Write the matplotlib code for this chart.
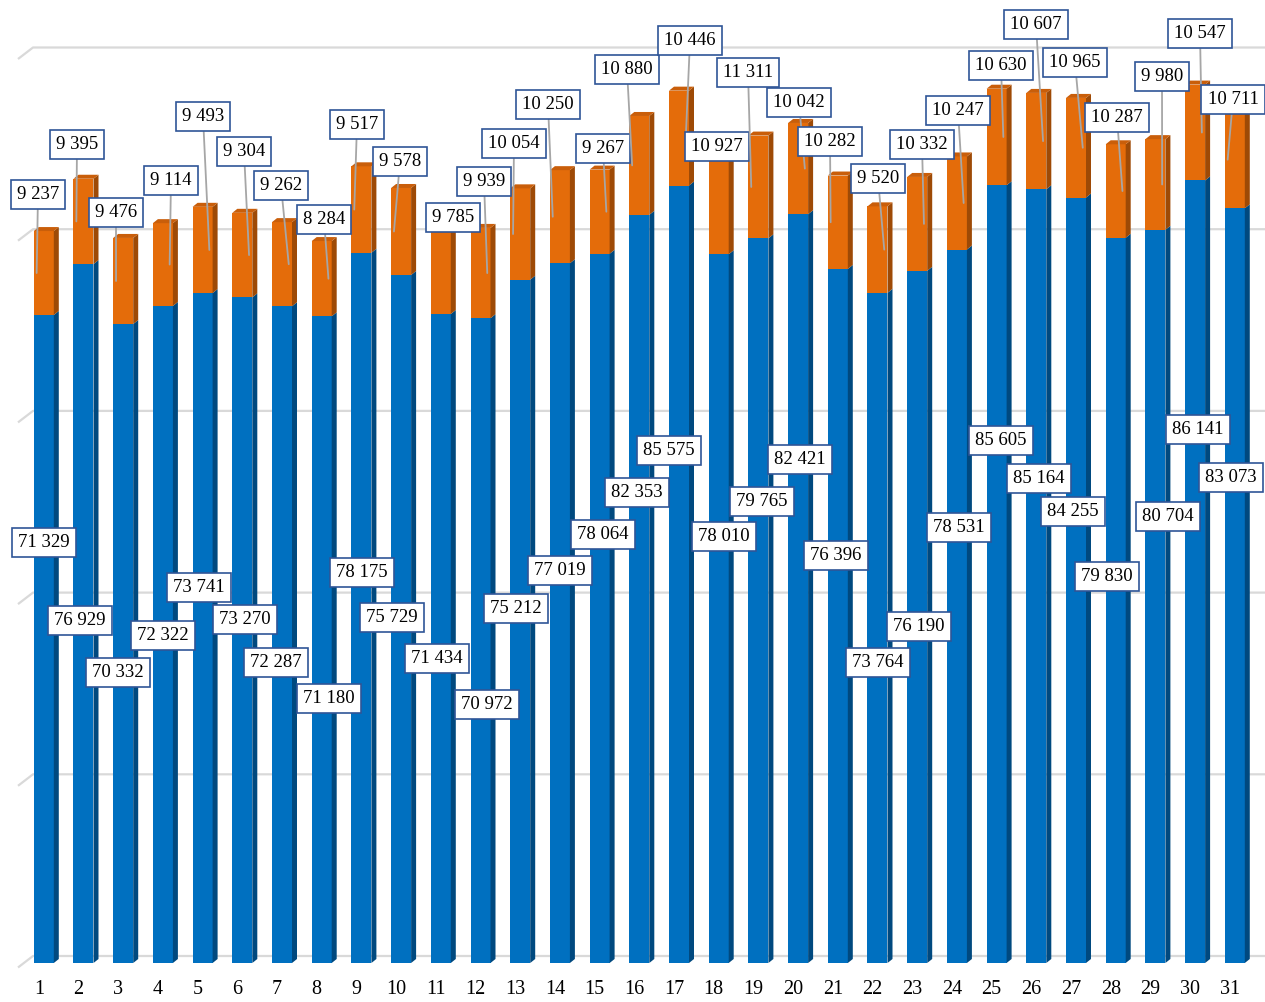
import matplotlib
matplotlib.use("Agg")
import matplotlib.pyplot as plt
from matplotlib.lines import Line2D
from matplotlib.transforms import IdentityTransform, ScaledTranslation

plt.rcParams['font.family'] = ['Liberation Serif', 'DejaVu Serif']

# ---------------- data ----------------
days = list(range(1, 32))
blue_vals = [71329, 76929, 70332, 72322, 73741, 73270, 72287, 71180, 78175, 75729,
             71434, 70972, 75212, 77019, 78064, 82353, 85575, 78010, 79765, 82421,
             76396, 73764, 76190, 78531, 85605, 85164, 84255, 79830, 80704, 86141,
             83073]
orange_vals = [9237, 9395, 9476, 9114, 9493, 9304, 9262, 8284, 9517, 9578,
               9785, 9939, 10054, 10250, 9267, 10880, 10446, 10927, 11311, 10042,
               10282, 9520, 10332, 10247, 10630, 10607, 10965, 10287, 9980, 10547,
               10711]
tick_labels = [str(d) for d in days]
grid_vals = [0, 20000, 40000, 60000, 80000, 100000]

# ---------------- layout (label box centres, figure pixels from top-left) ----------------
blue_label_px = [(44, 540), (80, 618), (118, 670), (163, 633), (199, 585), (245, 617),
                 (276, 660), (329, 696), (362, 570), (392, 615), (437, 656), (487, 702),
                 (516, 606), (560, 568), (603, 532), (637, 490), (669, 448), (724, 534),
                 (762, 499), (800, 457), (836, 553), (878, 660), (919, 624), (959, 525),
                 (1001, 438), (1039, 476), (1073, 509), (1107, 574), (1168, 514),
                 (1198, 427), (1231, 475)]
orange_label_px = [(38, 192), (77, 142), (116, 210), (171, 178), (203, 114), (244, 149),
                   (281, 183), (324, 217), (357, 122), (400, 159), (453, 215), (484, 179),
                   (514, 141), (548, 102), (603, 146), (627, 67), (690, 38), (717, 144),
                   (748, 70), (799, 100), (830, 139), (878, 176), (922, 142), (958, 108),
                   (1001, 63), (1036, 22), (1075, 60), (1117, 115), (1162, 74),
                   (1200, 31), (1233, 97)]
no_leader = {11, 18}
LABEL_DY = 2.5   # text baseline correction, pixels

W_PX, H_PX = 1265, 1002
X0_PX, STEP_PX = 43.8, 39.7      # centre of bar 1, spacing between bars
BASE_PX = 963                    # pixel row of value 0
PX_PER_UNIT = 0.009085

BLUE, BLUE_SIDE = '#0070C0', '#00497F'
ORANGE, ORANGE_SIDE, ORANGE_TOP = '#E46C0A', '#9E4A06', '#C95E0A'
GRID = '#D9D9D9'
BOX_EDGE = '#2F5597'
LEADER = '#A6A6A6'


def x_of_px(px):
    return 1 + (px - X0_PX) / STEP_PX


fig = plt.figure(figsize=(W_PX / 100, H_PX / 100), dpi=100)
ax = fig.add_axes([0, (H_PX - BASE_PX) / H_PX, 1, BASE_PX / H_PX])
ax.set_xlim(x_of_px(0), x_of_px(W_PX))
ax.set_ylim(0, BASE_PX / PX_PER_UNIT)
for s in ax.spines.values():
    s.set_visible(False)
ax.set_yticks([])

# ---------------- gridlines (back wall, with left diagonal) ----------------
for v in grid_vals:
    yd = ax.transData.transform((1, v))[1] + 7
    ax.add_line(Line2D([18, 33, W_PX], [yd - 11.5, yd, yd], transform=IdentityTransform(),
                       color=GRID, lw=1.6, zorder=0.5, clip_on=False,
                       solid_capstyle='butt'))

# ---------------- 3D bars ----------------
bw = 20 / STEP_PX
dx = 5 / STEP_PX
dy = 4 / PX_PER_UNIT
ax.bar(days, blue_vals, width=bw, color=BLUE, zorder=2, linewidth=0)
ax.bar(days, orange_vals, bottom=blue_vals, width=bw, color=ORANGE, zorder=2, linewidth=0)
for x, b, o in zip(days, blue_vals, orange_vals):
    t = b + o
    r = x + bw / 2
    l = x - bw / 2
    ax.fill([r, r + dx, r + dx, r], [0, dy, b + dy, b], color=BLUE_SIDE, lw=0, zorder=2)
    ax.fill([r, r + dx, r + dx, r], [b, b + dy, t + dy, t], color=ORANGE_SIDE, lw=0, zorder=2)
    ax.fill([l, l + dx, r + dx, r], [t, t + dy, t + dy, t], color=ORANGE_TOP, lw=0, zorder=2)

# ---------------- tick labels ----------------
ax.set_xticks(days)
ax.set_xticklabels(tick_labels, fontsize=14.5)
ax.tick_params(axis='x', length=0, pad=12.5)
shift = ScaledTranslation(-5 / 100, 0, fig.dpi_scale_trans)
for lab in ax.get_xticklabels():
    lab.set_transform(lab.get_transform() + shift)


def fmt(v):
    return f"{v:,}".replace(",", " ")


box = dict(boxstyle='square,pad=0.33', fc='white', ec=BOX_EDGE, lw=1.2)

# ---------------- value labels ----------------
for x, b, (px, py) in zip(days, blue_vals, blue_label_px):
    ax.annotate(fmt(b), xy=(px, H_PX - py - LABEL_DY), xycoords='figure pixels',
                ha='center', va='center', fontsize=13.5, bbox=box, zorder=5,
                annotation_clip=False)

for x, b, o, (px, py) in zip(days, blue_vals, orange_vals, orange_label_px):
    centre_px = X0_PX + (x - 1) * STEP_PX
    off = 0.17 if px >= centre_px - 1 else -0.18
    arrow = None if x in no_leader else dict(arrowstyle='-', color=LEADER, lw=1.3,
                                             shrinkA=0, shrinkB=0)
    ax.annotate(fmt(o), xy=(x + off, b + o / 2), xycoords='data',
                xytext=(px, H_PX - py - LABEL_DY), textcoords='figure pixels',
                ha='center', va='center', fontsize=13.5, bbox=box, zorder=5,
                arrowprops=arrow, annotation_clip=False)

fig.savefig('out.png', dpi=100)
